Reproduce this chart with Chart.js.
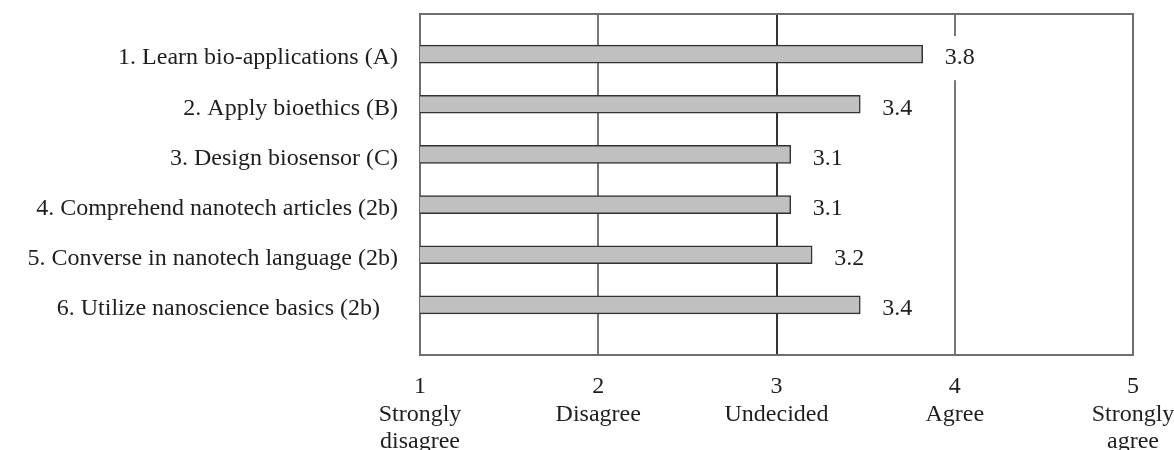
<!DOCTYPE html>
<html>
<head>
<meta charset="utf-8">
<script src="https://cdn.jsdelivr.net/npm/chart.js@4.4.0/dist/chart.umd.min.js"></script>
<style>
  html, body { margin: 0; padding: 0; background: #fff; }
  #wrap { width: 1174px; height: 450px; }
</style>
</head>
<body>
<div id="wrap"><canvas id="chart"></canvas></div>
<script>
// Survey items, mean ratings and the printed value labels
var categories = [
    '1. Learn bio-applications (A)',
    '2. Apply bioethics (B)',
    '3. Design biosensor (C)',
    '4. Comprehend nanotech articles (2b)',
    '5. Converse in nanotech language (2b)',
    '6. Utilize nanoscience basics (2b)   '
];
var means = [3.82, 3.47, 3.08, 3.08, 3.2, 3.47];
var valueLabels = ['3.8', '3.4', '3.1', '3.1', '3.2', '3.4'];

// Likert scale ticks
var scaleNumbers = ['1', '2', '3', '4', '5'];
var scaleWords = [['Strongly', 'disagree'], ['Disagree'], ['Undecided'], ['Agree'], ['Strongly', 'agree']];

var FONT = "'Liberation Serif', 'Times New Roman', serif";
var TEXT = '#1e1e1e';

/**
 * Box round the plot area, drawn under the bars
 */
var framePlugin = {
    id: 'frame',
    beforeDatasetsDraw: function(chart) {
        var a = chart.chartArea;
        var ctx = chart.ctx;
        ctx.save();
        ctx.strokeStyle = '#6e6e6e';
        ctx.lineWidth = 2;
        ctx.strokeRect(a.left, a.top, a.right - a.left, a.bottom - a.top);
        ctx.restore();
    }
};

/**
 * Printed mean next to each bar, on a white patch
 */
var valuePlugin = {
    id: 'values',
    afterDatasetsDraw: function(chart) {
        var ctx = chart.ctx;
        var meta = chart.getDatasetMeta(0);
        ctx.save();
        ctx.font = '24px ' + FONT;
        ctx.textBaseline = 'middle';
        ctx.textAlign = 'left';
        meta.data.forEach(function(bar, i) {
            var txt = valueLabels[i];
            var w = ctx.measureText(txt).width;
            var x = bar.x + 22;
            var y = bar.y + 4;
            ctx.fillStyle = '#fff';
            ctx.fillRect(x - 3, y - 22, w + 6, 44);
            ctx.fillStyle = TEXT;
            ctx.fillText(txt, x, y);
        });
        ctx.restore();
    }
};

new Chart(document.getElementById('chart'), {
    type: 'bar',
    data: {
        datasets: [{
            data: means.map(function(v, i) { return { x: v, y: i + 1 }; }),
            backgroundColor: '#c0c0c0',
            borderColor: '#333',
            borderWidth: 1.5,
            borderSkipped: false,
            barThickness: 18
        }]
    },
    options: {
        indexAxis: 'y',
        responsive: true,
        maintainAspectRatio: false,
        animation: false,
        layout: { padding: { top: 14, right: 41, left: 0, bottom: 0 } },
        plugins: {
            legend: { display: false },
            tooltip: { enabled: false }
        },
        scales: {
            x: {
                type: 'linear',
                min: 1,
                max: 5,
                afterFit: function(scale) {
                    scale.height = 95;
                    scale.paddingLeft = 0;
                    scale.paddingRight = 0;
                },
                afterBuildTicks: function(scale) {
                    scale.ticks = scaleNumbers.map(function(n) { return { value: Number(n) }; });
                },
                ticks: {
                    padding: 18,
                    color: TEXT,
                    font: { family: FONT, size: 24, lineHeight: 1.15 },
                    maxRotation: 0,
                    callback: function(value) {
                        var i = scaleNumbers.indexOf(String(value));
                        return [scaleNumbers[i]].concat(scaleWords[i]);
                    }
                },
                grid: {
                    drawTicks: false,
                    lineWidth: 2,
                    color: function(c) {
                        return c.tick && c.tick.value === 3 ? '#333' : '#777';
                    }
                },
                border: { display: false }
            },
            y: {
                type: 'linear',
                reverse: true,
                offset: false,
                min: 0.2,
                max: 7.0,
                afterFit: function(scale) {
                    scale.width = 420;
                    scale.paddingTop = 0;
                    scale.paddingBottom = 0;
                },
                afterBuildTicks: function(scale) {
                    scale.ticks = categories.map(function(c, i) { return { value: i + 1 }; });
                },
                ticks: {
                    padding: 22,
                    labelOffset: 4,
                    color: TEXT,
                    font: { family: FONT, size: 24 },
                    callback: function(value) { return categories[value - 1]; }
                },
                grid: { display: false, drawTicks: false },
                border: { display: false }
            }
        }
    },
    plugins: [framePlugin, valuePlugin]
});
</script>
</body>
</html>
